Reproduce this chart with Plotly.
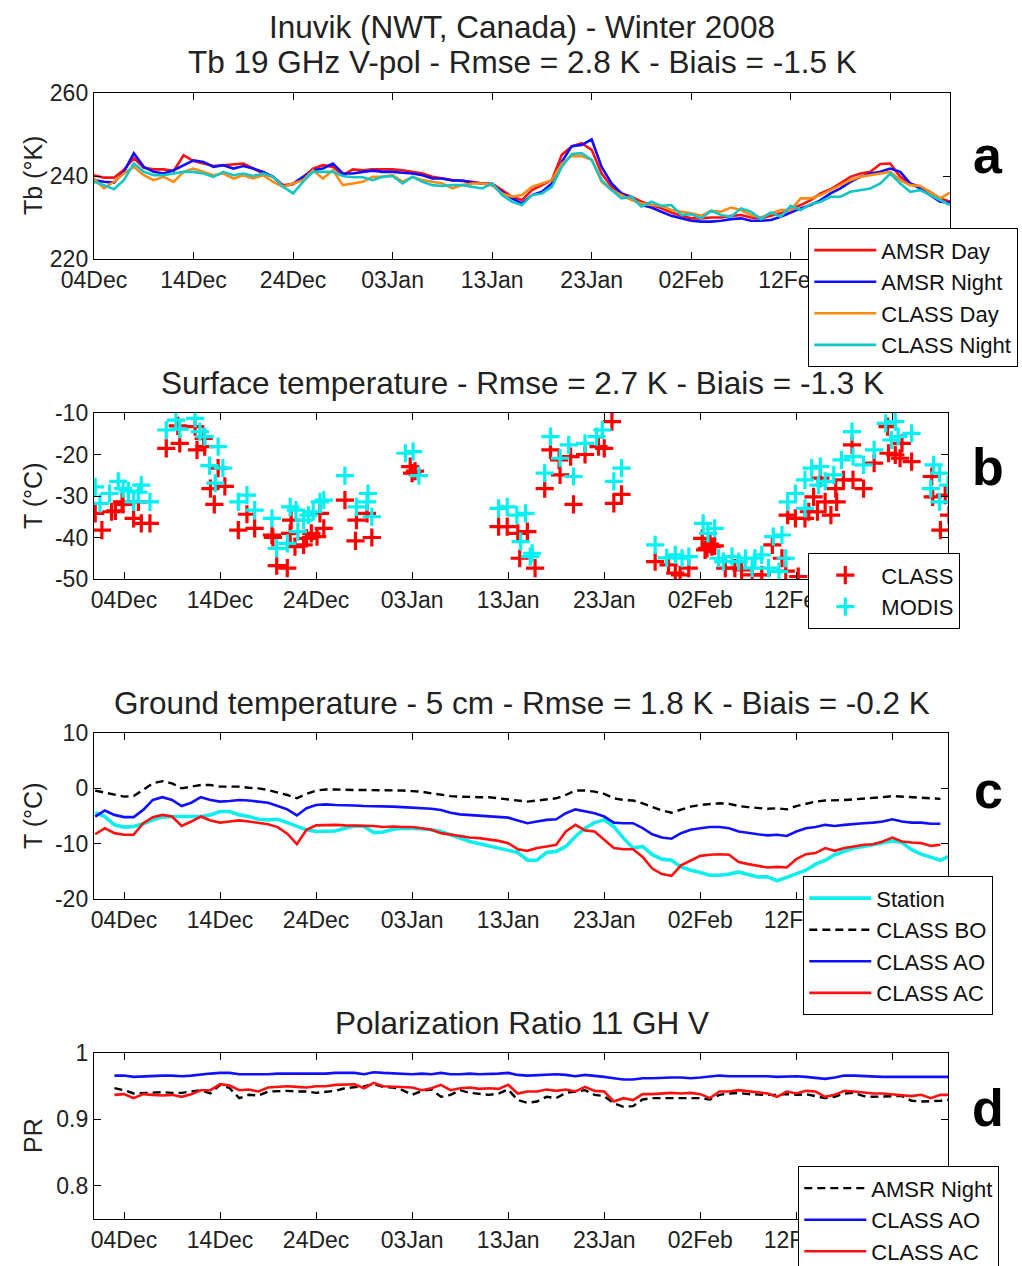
import pandas as pd
import plotly.graph_objects as go

# ---------------------------------------------------------------- data
# Day offsets are counted from 04 Dec 2007.
BASE_DATE = "2007-12-04"

# (a) 19 GHz V-pol brightness temperature (K), daily, 04 Dec -> 28 Feb
TB_DAYS = list(range(0, 87))
AMSR_DAY_TB = [
    240.2, 239.6, 239.6, 241.5, 244.3, 242.0, 241.6, 241.6, 241.2, 245.0,
    243.6, 243.0, 242.4, 242.6, 242.8, 243.0, 241.8, 240.6, 239.8, 237.8,
    238.0, 239.6, 241.8, 242.6, 242.2, 240.2, 241.6, 241.4, 241.6, 241.6,
    241.6, 241.4, 241.0, 240.6, 239.8, 239.4, 239.0, 238.8, 238.6, 238.2,
    238.2, 236.6, 235.0, 234.2, 236.6, 237.8, 239.0, 245.1, 247.1, 247.9,
    246.3, 240.6, 237.4, 235.8, 235.0, 233.8, 233.0, 232.2, 231.2, 230.4,
    229.8, 229.8, 230.0, 230.0, 230.4, 230.6, 230.0, 229.8, 230.4, 231.0,
    232.0, 233.0, 234.2, 235.8, 236.8, 238.2, 239.8, 240.6, 241.0, 242.9,
    243.0, 239.8, 238.2, 237.4, 236.2, 234.6, 233.8]
AMSR_NIGHT_TB = [
    239.0, 238.6, 238.4, 241.0, 245.5, 242.2, 241.0, 240.6, 241.4, 242.6,
    243.8, 243.4, 242.2, 242.6, 241.8, 242.4, 241.8, 241.0, 239.8, 237.4,
    238.2, 239.8, 241.4, 241.8, 243.0, 240.6, 240.6, 241.0, 241.3, 241.0,
    241.0, 240.8, 240.6, 240.2, 239.4, 239.4, 238.9, 238.9, 238.4, 238.2,
    237.8, 236.2, 234.6, 233.4, 235.4, 236.2, 238.2, 243.4, 247.2, 247.5,
    248.8, 242.2, 238.2, 235.8, 234.6, 233.0, 232.4, 231.4, 230.4, 229.8,
    229.2, 229.0, 229.0, 229.2, 229.6, 229.8, 229.2, 229.2, 229.4, 230.2,
    231.2, 232.2, 233.0, 234.2, 235.8, 237.0, 238.6, 239.8, 240.6, 241.0,
    241.8, 241.0, 238.2, 237.0, 235.4, 233.8, 233.6]
CLASS_DAY_TB = [
    239.4, 237.0, 238.6, 240.6, 242.2, 240.2, 239.0, 239.8, 238.6, 241.0,
    241.8, 241.0, 240.2, 240.6, 239.4, 240.2, 239.4, 240.2, 238.6, 237.4,
    238.2, 239.0, 241.4, 239.4, 241.4, 237.8, 238.2, 238.6, 239.8, 239.8,
    240.2, 238.6, 239.8, 239.0, 238.6, 238.2, 237.0, 237.8, 238.2, 238.2,
    237.8, 235.8, 235.0, 235.4, 237.4, 238.2, 239.0, 243.0, 244.8, 244.8,
    243.9, 238.6, 236.6, 235.4, 234.2, 233.4, 233.0, 232.8, 231.8, 231.4,
    231.0, 230.4, 231.6, 231.4, 232.4, 231.8, 230.6, 230.0, 231.0, 231.8,
    231.8, 234.6, 234.6, 235.4, 236.6, 237.8, 239.0, 239.8, 240.2, 240.6,
    241.0, 239.0, 237.8, 237.6, 236.2, 234.6, 236.0]
CLASS_NIGHT_TB = [
    238.6, 237.8, 236.8, 239.0, 243.0, 241.0, 240.2, 240.2, 240.6, 241.0,
    241.0, 240.6, 239.8, 241.0, 240.2, 240.6, 240.0, 240.6, 239.8, 237.4,
    235.8, 238.6, 241.0, 241.0, 241.0, 240.0, 239.7, 239.7, 239.0, 239.8,
    240.0, 238.2, 239.8, 238.6, 237.8, 237.6, 237.8, 237.8, 237.4, 237.0,
    238.2, 235.4, 233.8, 233.0, 235.4, 235.8, 237.4, 242.2, 245.3, 245.5,
    243.9, 239.0, 236.6, 234.6, 235.0, 232.6, 233.8, 232.8, 233.0, 230.6,
    230.8, 229.8, 231.6, 230.6, 230.2, 232.2, 231.4, 229.6, 231.2, 230.2,
    232.8, 231.8, 233.2, 233.8, 235.0, 235.0, 236.2, 236.6, 237.0, 238.2,
    240.6, 238.2, 236.2, 236.6, 235.4, 234.2, 233.0]

# (b) surface temperature (deg C) overpass samples: (day offset, value)
CLASS_SURF = [
    (-3.0, -34.2), (-2.3, -38.2), (-1.3, -33.8), (-0.9, -33.6), (-0.2, -31.4),
    (-0.1, -32.0), (1.0, -35.4), (1.5, -31.4), (1.8, -36.6), (2.7, -36.6),
    (4.4, -18.5), (5.6, -13.1), (5.8, -17.3), (7.4, -13.3), (7.6, -18.9),
    (8.3, -16.1), (8.4, -18.1), (9.0, -28.2), (9.4, -32.0), (9.8, -23.3),
    (10.5, -27.7), (11.9, -38.2), (12.8, -34.4), (13.6, -37.8), (15.4, -39.4),
    (15.5, -40.0), (15.9, -46.8), (17.0, -47.4), (17.3, -39.0), (17.4, -35.8),
    (17.8, -42.2), (18.7, -41.8), (19.0, -40.2), (19.5, -39.0), (20.1, -39.8),
    (20.4, -34.2), (20.8, -37.8), (23.0, -31.0), (24.1, -40.8), (24.2, -35.8),
    (25.3, -34.2), (25.8, -40.0), (29.8, -22.9), (30.0, -24.5), (30.3, -24.0),
    (39.0, -37.4), (39.9, -37.4), (41.0, -39.0), (41.2, -45.0), (42.0, -38.6),
    (42.8, -47.4), (43.8, -28.2), (44.4, -18.9), (45.3, -21.3), (45.4, -24.9),
    (46.5, -20.5), (46.8, -32.0), (48.0, -20.0), (49.4, -18.1), (50.0, -18.5),
    (50.8, -12.1), (51.0, -31.8), (51.8, -29.6), (55.3, -45.8), (56.7, -46.6),
    (57.4, -48.6), (57.9, -49.0), (58.8, -47.4), (60.2, -40.2), (60.5, -43.0),
    (60.7, -42.6), (61.0, -41.6), (61.2, -42.2), (61.5, -42.0), (62.6, -47.4),
    (63.6, -47.4), (64.3, -47.8), (65.4, -49.0), (66.4, -49.0), (67.5, -41.8),
    (68.5, -45.0), (68.9, -48.1), (69.1, -34.6), (69.9, -35.4), (70.2, -49.4),
    (70.9, -35.4), (71.3, -33.8), (71.8, -30.2), (72.2, -33.8), (72.5, -25.7),
    (73.0, -31.4), (73.6, -34.6), (74.1, -28.2), (74.2, -31.4), (74.9, -26.1),
    (75.8, -17.7), (75.9, -26.1), (77.0, -28.2), (78.1, -22.1), (79.5, -13.3),
    (79.6, -19.7), (80.3, -20.1), (80.8, -20.9), (81.0, -17.3), (82.0, -21.7),
    (84.1, -25.3), (84.2, -30.2), (85.0, -38.2), (85.5, -29.8), (85.9, -34.6)]
MODIS_SURF = [
    (-3.0, -27.8), (-2.5, -31.8), (-1.5, -29.4), (-0.6, -26.5), (-0.1, -28.2),
    (0.45, -28.8), (1.0, -31.4), (1.5, -29.1), (1.8, -27.4), (2.7, -31.4),
    (4.4, -14.1), (5.4, -11.7), (5.8, -13.9), (7.4, -11.3), (7.9, -14.5),
    (8.4, -15.7), (9.8, -18.1), (8.9, -22.7), (10.3, -23.3), (9.5, -26.9),
    (11.9, -31.4), (12.8, -29.8), (13.6, -33.4), (15.4, -35.4), (15.9, -42.6),
    (17.0, -41.4), (17.3, -32.6), (17.9, -33.4), (18.1, -38.6), (18.7, -35.8),
    (19.2, -34.6), (19.7, -33.8), (20.4, -31.4), (20.8, -31.0), (23.0, -25.1),
    (24.2, -32.6), (25.4, -29.4), (25.3, -31.4), (25.8, -35.0), (29.3, -19.7),
    (30.1, -19.3), (30.7, -25.1), (39.0, -33.0), (39.9, -32.6), (40.9, -34.6),
    (41.3, -41.0), (41.8, -34.2), (42.3, -44.6), (42.5, -43.8), (43.8, -24.5),
    (44.4, -15.7), (45.4, -20.9), (46.3, -17.7), (46.8, -25.3), (48.0, -17.3),
    (49.2, -15.7), (49.8, -14.1), (51.0, -26.5), (51.8, -23.3), (55.3, -41.8),
    (56.5, -44.9), (57.4, -44.2), (58.1, -45.0), (58.8, -44.6), (60.3, -36.6),
    (60.8, -39.0), (61.5, -37.8), (61.9, -45.0), (62.4, -45.8), (63.3, -44.6),
    (64.0, -45.8), (64.7, -45.0), (65.4, -47.4), (65.7, -45.0), (66.4, -44.2),
    (67.1, -47.4), (67.6, -39.8), (68.5, -39.4), (68.2, -48.2), (68.9, -45.0),
    (69.1, -31.4), (69.9, -29.4), (70.9, -33.0), (70.9, -26.1), (71.6, -23.3),
    (72.5, -22.9), (72.3, -27.4), (73.0, -26.5), (73.9, -24.9), (74.7, -21.3),
    (75.8, -14.5), (75.9, -20.5), (77.0, -22.5), (78.1, -18.9), (79.3, -12.5),
    (80.3, -12.1), (79.9, -16.5), (80.6, -15.7), (82.0, -14.9), (84.3, -22.5),
    (84.0, -28.2), (84.9, -31.4), (84.9, -24.5), (85.8, -27.4)]

# (c) ground temperature at 5 cm (deg C), daily from 01 Dec
GROUND_DAYS = list(range(-3, 87))
STATION_T5 = [
    -4.4, -5.1, -6.6,
    -7.0, -6.9, -6.4, -5.7, -5.2, -5.1, -5.1, -5.1, -5.1, -4.8,
    -4.2, -4.2, -4.8, -5.1, -5.6, -5.7, -5.6, -6.2, -6.9, -7.5,
    -7.8, -7.8, -7.7, -7.2, -6.8, -6.9, -8.0, -7.9, -7.4, -7.2,
    -7.2, -7.3, -7.5, -7.8, -8.4, -9.0, -9.6, -10.0, -10.4, -10.8,
    -11.2, -11.6, -13.0, -13.0, -11.6, -11.4, -10.5, -8.7, -7.2, -6.2,
    -5.7, -6.9, -9.0, -10.8, -10.5, -12.0, -12.8, -13.0, -14.2, -14.8,
    -15.2, -15.7, -15.7, -15.5, -15.1, -15.5, -16.0, -16.0, -16.7, -16.1,
    -15.5, -14.8, -13.7, -13.0, -12.0, -11.4, -10.8, -10.5, -10.2, -9.8,
    -9.5, -9.8, -11.1, -11.9, -12.4, -13.0, -12.2]
CLASS_BO_T5 = [
    -0.4, -0.8, -1.2,
    -1.5, -1.4, -0.3, 0.9, 1.3, 0.9, 0.0, 0.3, 0.6, 0.6,
    0.3, 0.3, 0.3, 0.1, 0.0, -0.3, -0.7, -1.2, -1.8, -1.0,
    -0.4, -0.2, -0.2, -0.3, -0.3, -0.3, -0.3, -0.4, -0.4, -0.4,
    -0.5, -0.6, -0.9, -1.2, -1.4, -1.5, -1.6, -1.6, -1.6, -1.8,
    -1.9, -2.1, -2.4, -2.2, -2.0, -1.8, -1.2, -0.4, -0.4, -0.6,
    -1.0, -1.8, -2.1, -2.2, -2.7, -3.4, -4.0, -4.4, -3.8, -3.3,
    -3.0, -2.8, -2.7, -2.8, -3.2, -3.4, -3.6, -3.7, -3.6, -3.8,
    -3.2, -2.8, -2.4, -2.2, -2.2, -2.1, -2.0, -1.9, -1.7, -1.6,
    -1.4, -1.5, -1.6, -1.7, -1.8, -1.9]
CLASS_AO_T5 = [
    -5.1, -4.0, -4.8,
    -5.2, -5.2, -3.9, -2.1, -1.6, -2.1, -3.2, -2.6, -1.6, -2.1,
    -2.4, -2.3, -2.1, -2.2, -2.4, -2.6, -3.2, -3.8, -4.9, -3.6,
    -3.0, -2.9, -3.0, -3.0, -3.1, -3.2, -3.2, -3.3, -3.3, -3.4,
    -3.5, -3.5, -3.7, -3.9, -4.4, -4.7, -4.8, -5.0, -5.1, -5.2,
    -5.3, -5.8, -6.3, -6.0, -5.7, -5.6, -4.5, -3.8, -4.2, -4.5,
    -5.1, -6.2, -6.3, -6.3, -7.2, -8.3, -8.9, -9.1, -8.1, -7.5,
    -7.2, -7.0, -7.0, -7.2, -7.8, -8.1, -8.3, -8.5, -8.4, -8.6,
    -7.8, -7.2, -7.0, -6.6, -6.8, -6.6, -6.4, -6.3, -6.2, -6.0,
    -5.6, -6.0, -6.2, -6.2, -6.4, -6.4]
CLASS_AC_T5 = [
    -8.3, -7.2, -8.1,
    -8.4, -8.4, -6.3, -5.2, -4.8, -5.1, -6.8, -6.0, -5.1, -5.8,
    -6.2, -6.0, -5.8, -6.0, -6.2, -6.5, -7.0, -8.2, -10.1, -7.5,
    -6.7, -6.6, -6.6, -6.7, -6.7, -6.8, -6.8, -7.0, -6.9, -7.0,
    -7.0, -7.2, -7.5, -8.1, -8.4, -8.7, -8.9, -9.0, -9.2, -9.5,
    -9.9, -11.0, -11.3, -10.8, -10.5, -10.2, -7.8, -6.6, -7.6, -7.8,
    -9.3, -10.8, -11.0, -11.0, -12.4, -14.5, -15.5, -15.8, -13.9, -13.0,
    -12.2, -12.0, -11.9, -12.0, -13.3, -13.7, -14.0, -14.3, -14.2, -14.3,
    -12.8, -11.9, -11.7, -10.8, -11.3, -10.8, -10.5, -10.2, -10.1, -9.6,
    -8.9, -9.6, -9.8, -9.9, -10.4, -10.2]

# (d) 11 GHz polarization ratio, daily from 03 Dec
PR_DAYS = list(range(-1, 87))
PR_AMSR_NIGHT = [
    0.947,
    0.944, 0.939, 0.940, 0.940, 0.941, 0.940, 0.940, 0.942, 0.944, 0.939,
    0.952, 0.947, 0.932, 0.937, 0.936, 0.942, 0.943, 0.943, 0.942, 0.942,
    0.940, 0.942, 0.943, 0.947, 0.948, 0.950, 0.953, 0.949, 0.948, 0.944,
    0.937, 0.943, 0.945, 0.934, 0.937, 0.944, 0.940, 0.938, 0.937, 0.939,
    0.945, 0.929, 0.925, 0.927, 0.934, 0.932, 0.940, 0.942, 0.944, 0.937,
    0.935, 0.924, 0.919, 0.920, 0.930, 0.932, 0.932, 0.932, 0.932, 0.932,
    0.932, 0.930, 0.937, 0.939, 0.940, 0.938, 0.937, 0.937, 0.937, 0.938,
    0.937, 0.938, 0.935, 0.932, 0.934, 0.939, 0.940, 0.935, 0.934, 0.935,
    0.935, 0.935, 0.928, 0.927, 0.927, 0.928, 0.930]
PR_CLASS_AO = [
    0.966,
    0.966, 0.964, 0.965, 0.966, 0.966, 0.966, 0.965, 0.966, 0.968, 0.969,
    0.970, 0.970, 0.968, 0.968, 0.967, 0.968, 0.969, 0.969, 0.969, 0.968,
    0.969, 0.969, 0.970, 0.970, 0.970, 0.968, 0.971, 0.970, 0.969, 0.968,
    0.968, 0.969, 0.968, 0.970, 0.968, 0.968, 0.969, 0.968, 0.968, 0.969,
    0.970, 0.967, 0.966, 0.967, 0.967, 0.968, 0.967, 0.965, 0.967, 0.966,
    0.964, 0.962, 0.960, 0.960, 0.962, 0.962, 0.963, 0.963, 0.963, 0.962,
    0.963, 0.965, 0.966, 0.965, 0.965, 0.966, 0.965, 0.965, 0.964, 0.965,
    0.965, 0.964, 0.963, 0.961, 0.963, 0.966, 0.966, 0.965, 0.965, 0.964,
    0.964, 0.964, 0.963, 0.963, 0.963, 0.963, 0.964]
PR_CLASS_AC = [
    0.937,
    0.938, 0.932, 0.938, 0.937, 0.936, 0.937, 0.934, 0.938, 0.944, 0.944,
    0.953, 0.951, 0.944, 0.945, 0.942, 0.948, 0.949, 0.950, 0.949, 0.948,
    0.950, 0.950, 0.952, 0.953, 0.953, 0.947, 0.955, 0.950, 0.949, 0.948,
    0.948, 0.944, 0.947, 0.952, 0.944, 0.947, 0.948, 0.946, 0.947, 0.946,
    0.952, 0.939, 0.942, 0.942, 0.945, 0.943, 0.945, 0.942, 0.949, 0.943,
    0.942, 0.927, 0.932, 0.929, 0.938, 0.938, 0.939, 0.940, 0.939, 0.940,
    0.938, 0.932, 0.942, 0.942, 0.944, 0.942, 0.940, 0.939, 0.934, 0.942,
    0.939, 0.943, 0.942, 0.934, 0.937, 0.943, 0.942, 0.940, 0.939, 0.939,
    0.938, 0.937, 0.935, 0.937, 0.932, 0.937, 0.937]

TICK_DATES = ["2007-12-04", "2007-12-14", "2007-12-24", "2008-01-03", "2008-01-13",
              "2008-01-23", "2008-02-02", "2008-02-12", "2008-02-22"]
TICK_TEXT = ["04Dec", "14Dec", "24Dec", "03Jan", "13Jan", "23Jan", "02Feb", "12Feb", "22Feb"]


def to_dates(days):
    base = pd.Timestamp(BASE_DATE)
    return [base + pd.Timedelta(days=float(d)) for d in days]


# ---------------------------------------------------------------- figure
W, H = 1022, 1266
FONT = "Liberation Sans, Arial, Helvetica, sans-serif"
TXT = "#222222"


def px(x):
    return x / W


def py(y):
    return 1 - y / H


fig = go.Figure()


def add_line(panel, days, vals, name, color, width, legend, dash="solid"):
    fig.add_trace(go.Scatter(
        x=to_dates(days[:len(vals)]), y=vals, mode="lines", name=name,
        line=dict(color=color, width=width, dash=dash),
        xaxis="x" + panel, yaxis="y" + panel, legend=legend))


def add_cross(panel, pts, name, color, legend):
    fig.add_trace(go.Scatter(
        x=to_dates([p[0] for p in pts]), y=[p[1] for p in pts], mode="markers",
        name=name, xaxis="x" + panel, yaxis="y" + panel, legend=legend,
        marker=dict(symbol="cross-thin", size=13, color=color,
                    line=dict(color=color, width=3.2))))


RED, BLUE, ORANGE = "#ff1010", "#1010ff", "#ff8a12"
TEAL, CYAN = "#12c6c6", "#10eded"

# (a)
add_line("", TB_DAYS, AMSR_DAY_TB, "AMSR Day", RED, 2.6, "legend")
add_line("", TB_DAYS, AMSR_NIGHT_TB, "AMSR Night", BLUE, 2.6, "legend")
add_line("", TB_DAYS, CLASS_DAY_TB, "CLASS Day", ORANGE, 2.6, "legend")
add_line("", TB_DAYS, CLASS_NIGHT_TB, "CLASS Night", TEAL, 2.6, "legend")
# (b)
add_cross("2", CLASS_SURF, "CLASS", "#ff0000", "legend2")
add_cross("2", MODIS_SURF, "MODIS", "#00f2f2", "legend2")
# (c)
add_line("3", GROUND_DAYS, STATION_T5, "Station", CYAN, 3.6, "legend3")
add_line("3", GROUND_DAYS, CLASS_BO_T5, "CLASS BO", "#000000", 2.4, "legend3", dash="8px,5px")
add_line("3", GROUND_DAYS, CLASS_AO_T5, "CLASS AO", BLUE, 2.6, "legend3")
add_line("3", GROUND_DAYS, CLASS_AC_T5, "CLASS AC", RED, 2.6, "legend3")
# (d)
add_line("4", PR_DAYS, PR_AMSR_NIGHT, "AMSR Night", "#000000", 2.4, "legend4", dash="8px,5px")
add_line("4", PR_DAYS, PR_CLASS_AO, "CLASS AO", BLUE, 2.6, "legend4")
add_line("4", PR_DAYS, PR_CLASS_AC, "CLASS AC", RED, 2.6, "legend4")


def x_axis(domain, rng, anchor):
    return dict(type="date", domain=domain, range=rng, anchor=anchor,
                tickmode="array", tickvals=TICK_DATES, ticktext=TICK_TEXT,
                ticks="inside", ticklen=7, tickwidth=1.3, tickcolor="#000",
                showline=True, linecolor="#000", linewidth=1.4, mirror="allticks",
                showgrid=False, zeroline=False,
                tickfont=dict(family=FONT, size=23, color=TXT))


def y_axis(domain, rng, vals, text, anchor):
    return dict(domain=domain, range=rng, anchor=anchor,
                tickmode="array", tickvals=vals, ticktext=text,
                ticks="inside", ticklen=7, tickwidth=1.3, tickcolor="#000",
                showline=True, linecolor="#000", linewidth=1.4, mirror="allticks",
                showgrid=False, zeroline=False,
                tickfont=dict(family=FONT, size=23, color=TXT))


FULL = ["2007-11-30 21:00", "2008-02-27 19:00"]

fig.update_layout(
    xaxis=x_axis([px(94), px(950)], ["2007-12-04", "2008-02-28"], "y"),
    yaxis=y_axis([py(259), py(93)], [220, 260], [220, 240, 260],
                 ["220", "240", "260"], "x"),
    xaxis2=x_axis([px(94), px(948)], FULL, "y2"),
    yaxis2=y_axis([py(579), py(413)], [-50, -10], [-50, -40, -30, -20, -10],
                  ["-50", "-40", "-30", "-20", "-10"], "x2"),
    xaxis3=x_axis([px(94), px(948)], FULL, "y3"),
    yaxis3=y_axis([py(899), py(733)], [-20, 10], [-20, -10, 0, 10],
                  ["-20", "-10", "0", "10"], "x3"),
    xaxis4=x_axis([px(94), px(948)], FULL, "y4"),
    yaxis4=y_axis([py(1219), py(1053)], [0.75, 1.0], [0.8, 0.9, 1.0],
                  ["0.8", "0.9", "1"], "x4"),
)


def legend_box(x, y):
    return dict(x=px(x), y=py(y), xanchor="left", yanchor="top",
                bgcolor="white", bordercolor="#000", borderwidth=1.3,
                font=dict(family=FONT, size=22, color="#111111"),
                itemwidth=62, tracegroupgap=0)


fig.update_layout(
    width=W, height=H, autosize=False,
    margin=dict(l=0, r=0, t=0, b=0, autoexpand=False),
    paper_bgcolor="white", plot_bgcolor="white",
    font=dict(family=FONT, color=TXT),
    showlegend=True,
    legend=legend_box(808, 228),
    legend2=legend_box(808, 553),
    legend3=legend_box(803, 876),
    legend4=legend_box(798, 1166),
)

# titles, axis labels and panel letters
titles = [
    ("Inuvik (NWT, Canada) - Winter 2008", 27),
    ("Tb 19 GHz V-pol - Rmse = 2.8 K - Biais = -1.5 K", 62),
    ("Surface temperature - Rmse = 2.7 K - Biais = -1.3 K", 383),
    ("Ground temperature - 5 cm - Rmse = 1.8 K - Biais = -0.2 K", 703),
    ("Polarization Ratio 11 GH V", 1023),
]
for text, yc in titles:
    fig.add_annotation(text=text, x=px(522), y=py(yc), xref="paper", yref="paper",
                       xanchor="center", yanchor="middle", showarrow=False,
                       font=dict(family=FONT, size=31.5, color=TXT))

ylabels = [("Tb (°K)", 176), ("T (°C)", 496), ("T (°C)", 816), ("PR", 1136)]
for text, yc in ylabels:
    fig.add_annotation(text=text, x=px(33), y=py(yc), xref="paper", yref="paper",
                       xanchor="center", yanchor="middle", textangle=-90,
                       showarrow=False, font=dict(family=FONT, size=25, color=TXT))

letters = [("a", 155), ("b", 467), ("c", 790), ("d", 1108)]
for text, yc in letters:
    fig.add_annotation(text="<b>%s</b>" % text, x=px(988), y=py(yc), xref="paper",
                       yref="paper", xanchor="center", yanchor="middle",
                       showarrow=False, font=dict(family=FONT, size=52, color="#000"))

fig.write_html("out.html")
